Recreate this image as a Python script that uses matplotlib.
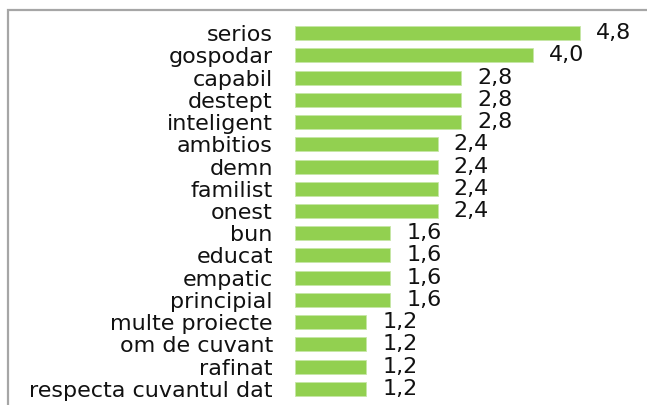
import matplotlib
matplotlib.use('Agg')
import matplotlib.pyplot as plt
from matplotlib.patches import Rectangle

# values
labels = ['serios', 'gospodar', 'capabil', 'destept', 'inteligent', 'ambitios',
          'demn', 'familist', 'onest', 'bun', 'educat', 'empatic', 'principial',
          'multe proiecte', 'om de cuvant', 'rafinat', 'respecta cuvantul dat']
values = [4.8, 4.0, 2.8, 2.8, 2.8, 2.4, 2.4, 2.4, 2.4, 1.6, 1.6, 1.6, 1.6,
          1.2, 1.2, 1.2, 1.2]

plt.rcParams['font.family'] = ['DejaVu Sans']

W, H = 647, 405
fig = plt.figure(figsize=(W / 100, H / 100), dpi=100)
fig.patch.set_facecolor('white')

# outer chart frame (only top and left edges visible in the crop)
fig.patches.append(Rectangle((8 / W, -0.2), 1.2, (H - 10) / H + 0.2,
                             transform=fig.transFigure, fill=False,
                             edgecolor='#a6a6a6', linewidth=1.6))

xmax = 5.8
ax = fig.add_axes([295 / W, (H - 400) / H, xmax * 59.4 / W, 378 / H])
ypos = list(range(len(labels)))
ax.barh(ypos, values, height=0.63, color='#92d050', edgecolor='#c6e6a6',
        linewidth=0.6)
ax.set_xlim(0, xmax)
ax.set_ylim(len(labels) - 0.5, -0.5)

for y, v in zip(ypos, values):
    ax.text(v + 0.27, y, ('%.1f' % v).replace('.', ','), va='center',
            ha='left', fontsize=16, color='#111111')

ax.set_yticks(ypos)
ax.set_yticklabels(labels, fontsize=16, color='#111111')
ax.tick_params(axis='y', length=0, pad=16)
ax.set_xticks([])
for s in ax.spines.values():
    s.set_visible(False)

fig.savefig('out.png', dpi=100)
